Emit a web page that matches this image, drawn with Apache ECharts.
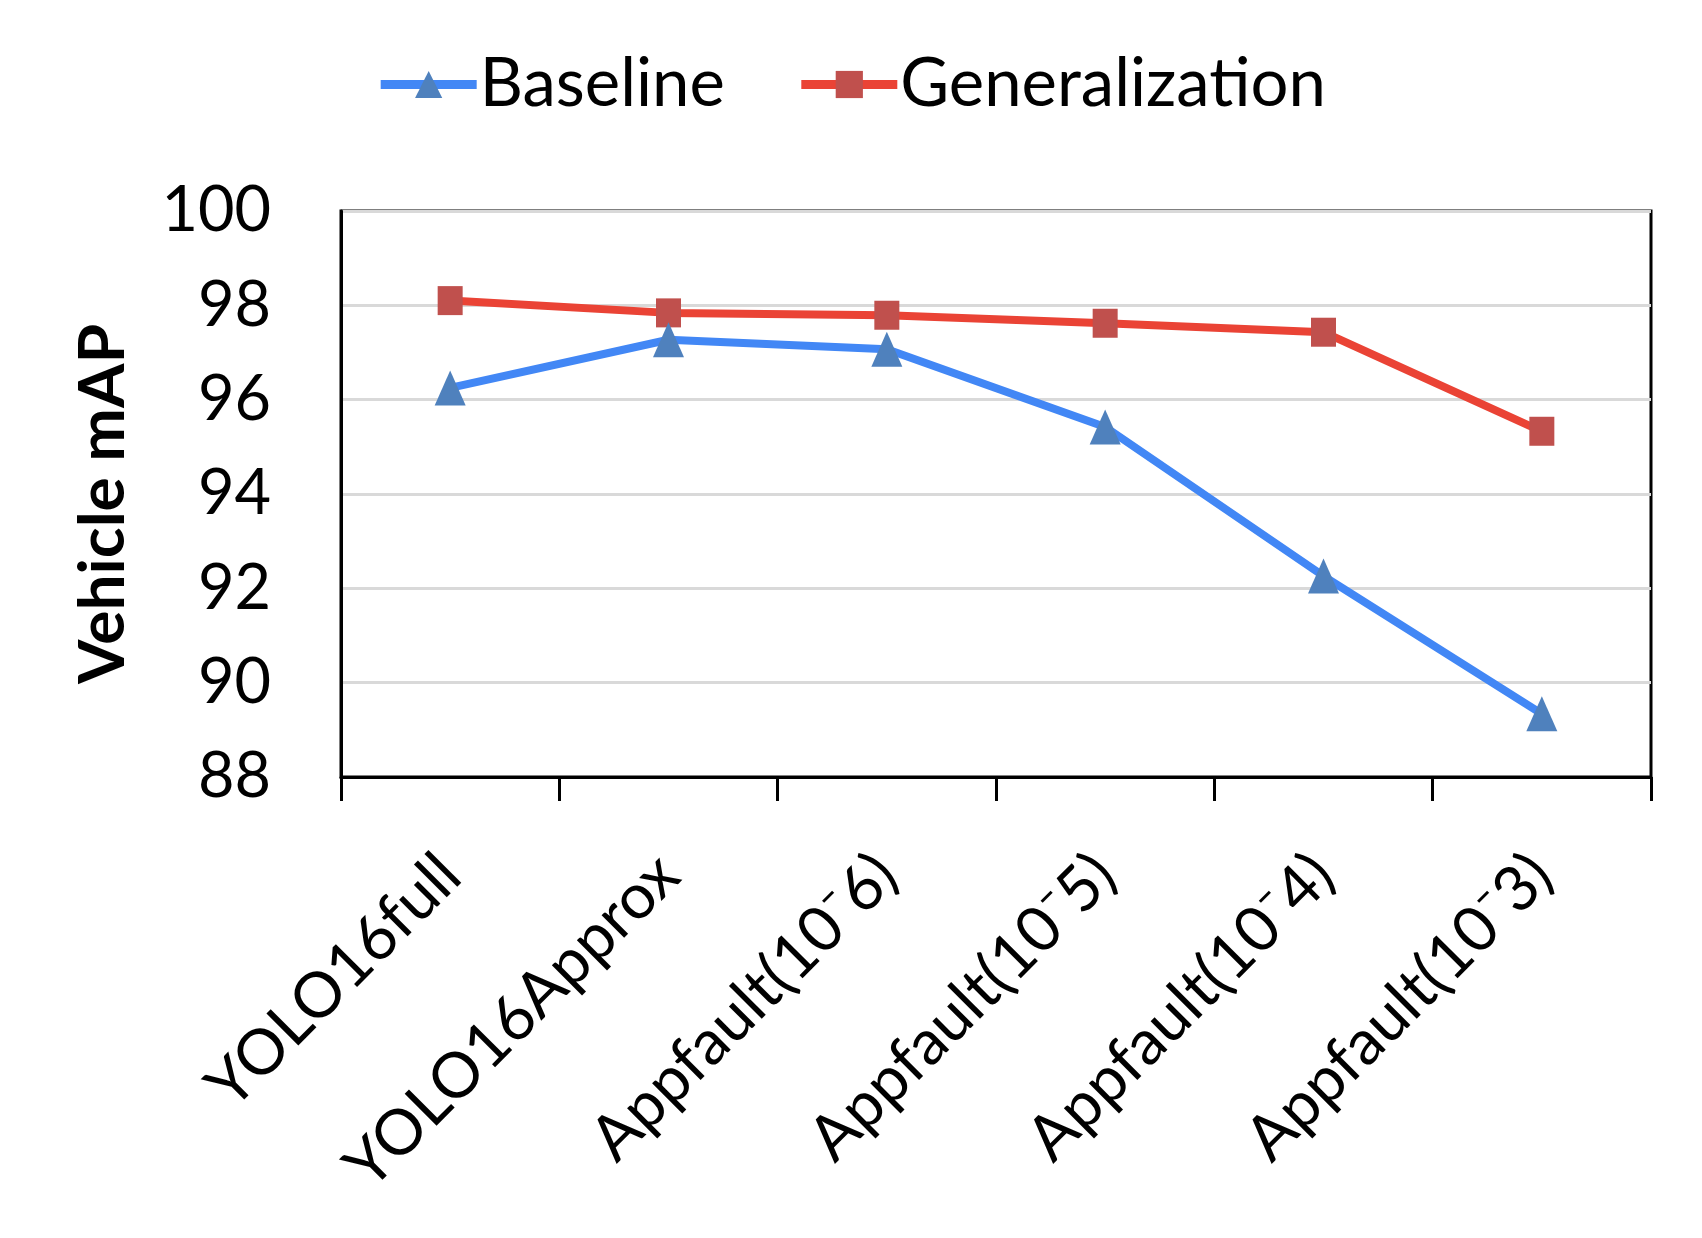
<!DOCTYPE html>
<html>
<head>
    <meta charset="utf-8" />
    <title>Vehicle mAP</title>
    <script src="https://cdn.jsdelivr.net/npm/echarts@6/dist/echarts.min.js"></script>
    <style>
        html, body { margin: 0; padding: 0; background: #fff; }
        #container { width: 1702px; height: 1238px; }
    </style>
</head>
<body>
    <div id="container"></div>
    <script>
    // 数据
    var categories = ['YOLO16full', 'YOLO16Approx', 'Appfault(10\u207B6)', 'Appfault(10\u207B5)', 'Appfault(10\u207B4)', 'Appfault(10\u207B3)'];
    var baseline = [96.25, 97.27, 97.07, 95.42, 92.26, 89.34];
    var generalization = [98.10, 97.84, 97.79, 97.62, 97.43, 95.33];

    var font = 'Lato';
    var myChart = echarts.init(document.getElementById('container'));
    var option = {
        backgroundColor: '#fff',
        legend: {
            top: 46,
            left: 'center',
            itemWidth: 96,
            itemHeight: 34,
            itemGap: 72,
            data: ['Baseline', 'Generalization'],
            lineStyle: { width: 9 },
            textStyle: { fontFamily: font, fontSize: 67, color: '#000', padding: [0, 0, 0, -2] }
        },
        grid: {
            left: 341, right: 51, top: 211, bottom: 461,
            show: true,
            borderColor: '#000',
            borderWidth: 3,
            outerBoundsMode: 'none'
        },
        xAxis: {
            type: 'category',
            data: categories,
            boundaryGap: true,
            axisLine: { lineStyle: { color: '#000', width: 3 } },
            axisTick: { show: true, length: 24, lineStyle: { color: '#000', width: 3 } },
            axisLabel: {
                rotate: 45,
                margin: 88,
                interval: 0,
                color: '#000',
                fontFamily: font,
                fontSize: 63
            },
            splitLine: { show: false }
        },
        yAxis: {
            type: 'value',
            min: 88,
            max: 100,
            interval: 2,
            name: 'Vehicle mAP',
            nameLocation: 'middle',
            nameGap: 206,
            nameTextStyle: { fontFamily: font, fontSize: 64, fontWeight: 'bold', color: '#000', padding: [0, 20, 0, 0] },
            axisLine: { show: true, lineStyle: { color: '#000', width: 3 } },
            axisTick: { show: false },
            axisLabel: { margin: 70, color: '#000', fontFamily: font, fontSize: 63 },
            splitLine: { lineStyle: { color: '#D9D9D9', width: 3 } }
        },
        series: [
            {
                name: 'Generalization',
                type: 'line',
                data: generalization,
                symbol: 'rect',
                symbolSize: [25, 29],
                lineStyle: { color: '#EA4335', width: 8 },
                itemStyle: { color: '#C0504D' },
                z: 2
            },
            {
                name: 'Baseline',
                type: 'line',
                data: baseline,
                symbol: 'triangle',
                symbolSize: [31, 35],
                lineStyle: { color: '#4287F5', width: 8 },
                itemStyle: { color: '#4F81BD' },
                z: 3
            }
        ],
        animation: false
    };
    myChart.setOption(option, true);
    </script>
</body>
</html>
